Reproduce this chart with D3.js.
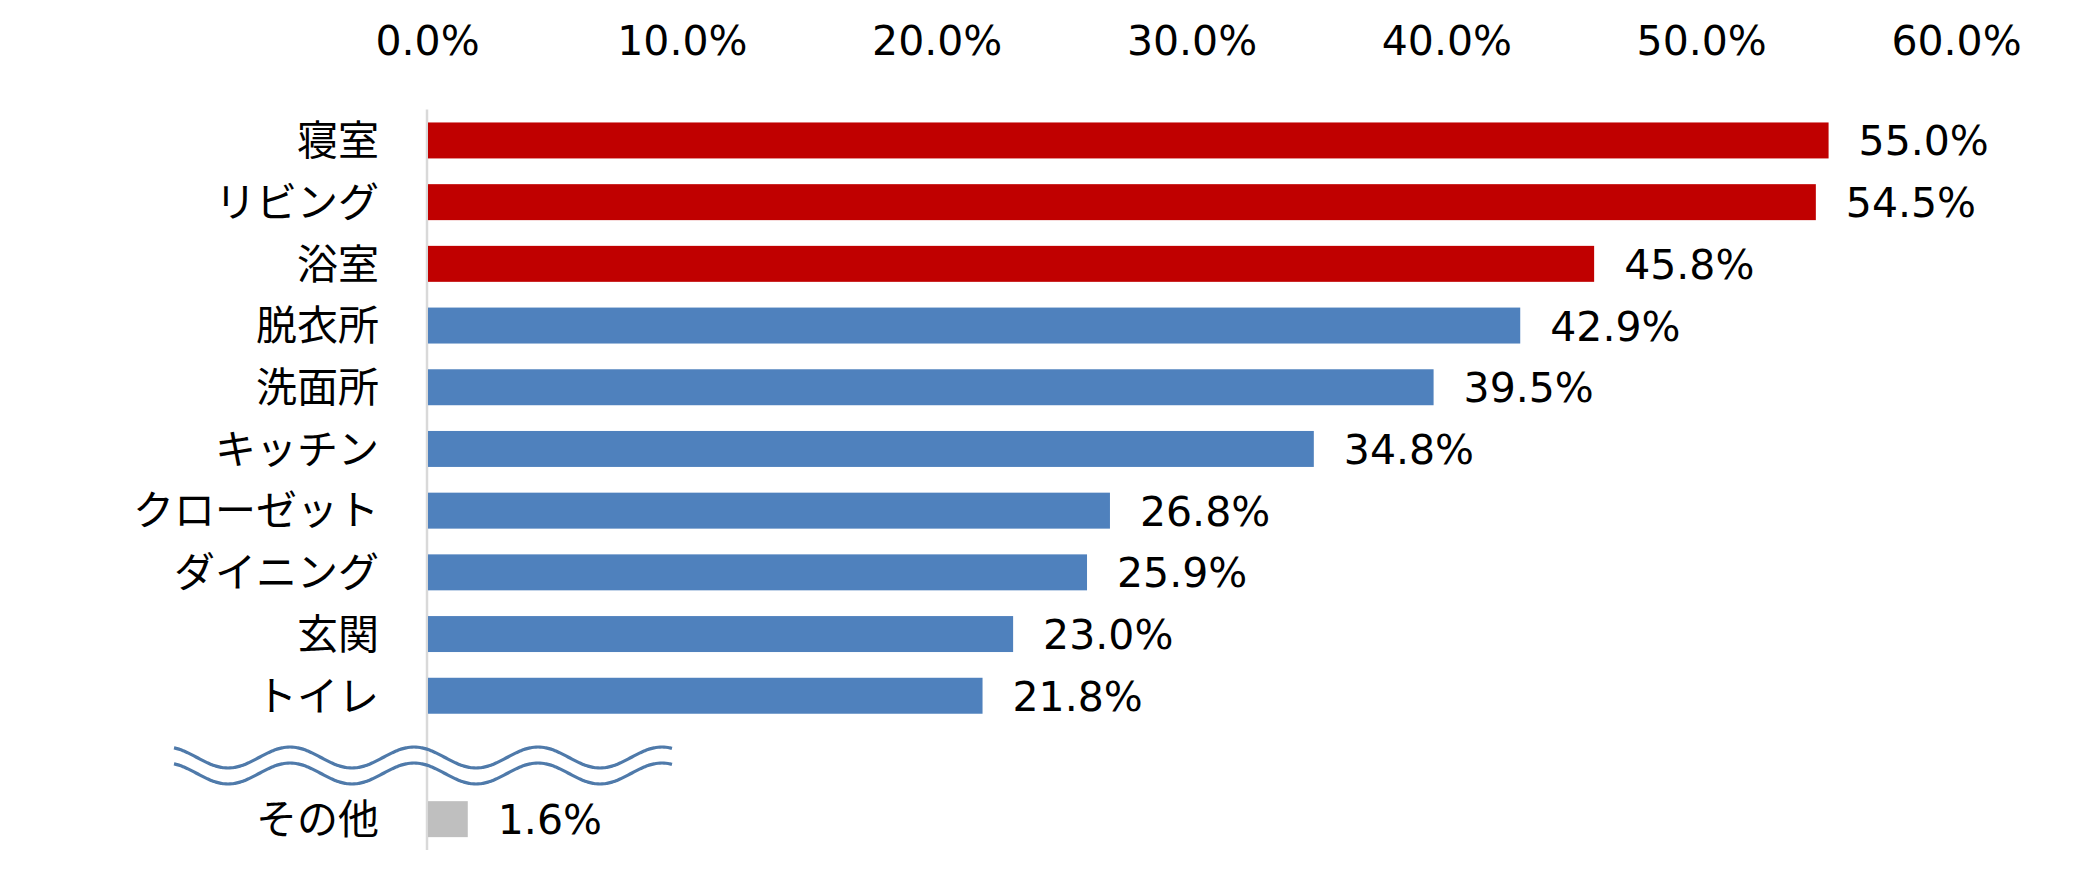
<!DOCTYPE html>
<html><head><meta charset="utf-8">
<script src="https://cdn.jsdelivr.net/npm/d3@7"></script>
<style>html,body{margin:0;padding:0;background:#fff;}svg{display:block;}</style>
</head><body>
<svg id="chart" width="2099" height="888"></svg>
<script>
const categories = ["寝室","リビング","浴室","脱衣所","洗面所","キッチン","クローゼット","ダイニング","玄関","トイレ"];
const values = [55.0,54.5,45.8,42.9,39.5,34.8,26.8,25.9,23.0,21.8];
const colors = ["#C00000","#C00000","#C00000","#4F81BD","#4F81BD","#4F81BD","#4F81BD","#4F81BD","#4F81BD","#4F81BD"];
const otherCategory = "その他";
const otherValue = 1.6;
const tickValues = [0,10,20,30,40,50,60];

const svg = d3.select("#chart");
const x = d3.scaleLinear().domain([0,60]).range([427,1956]);
const rows = [...categories, "__gap__", otherCategory];
const y = d3.scaleBand().domain(rows).range([109.6, 850]).paddingInner(0.417).paddingOuter(0.2085);

const data = categories.map((c,i)=>({c, v:values[i], col:colors[i]}));
data.push({c:otherCategory, v:otherValue, col:"#BFBFBF"});

// axis line
svg.append("line").attr("x1",x(0)).attr("x2",x(0)).attr("y1",109.6).attr("y2",850)
  .attr("stroke","#D9D9D9").attr("stroke-width",2.5);

// top axis
const ax = svg.append("g").attr("transform","translate(0,55)")
  .call(d3.axisTop(x).tickValues(tickValues).tickFormat(d=>d.toFixed(1)+"%").tickSize(0).tickPadding(0));
ax.select(".domain").remove();
ax.selectAll("text").attr("font-family","'DejaVu Sans', Verdana, sans-serif").attr("font-size",41).attr("fill","#000").attr("dy",0);

// bars
svg.selectAll("rect.bar").data(data).enter().append("rect").attr("class","bar")
  .attr("x",x(0)+1).attr("y",d=>y(d.c)).attr("height",y.bandwidth())
  .attr("width",d=>x(d.v)-x(0)-1).attr("fill",d=>d.col);

// category labels
svg.selectAll("text.cat").data(data).enter().append("text").attr("class","cat")
  .attr("x",379).attr("y",d=>y(d.c)+y.bandwidth()/2).attr("dy","0.36em")
  .attr("text-anchor","end").attr("font-family","'Noto Sans CJK JP', sans-serif").attr("font-size",41)
  .attr("fill","#000").text(d=>d.c);

// value labels
svg.selectAll("text.val").data(data).enter().append("text").attr("class","val")
  .attr("x",d=>x(d.v)+30).attr("y",d=>y(d.c)+y.bandwidth()/2).attr("dy","0.365em")
  .attr("font-family","'DejaVu Sans', Verdana, sans-serif").attr("font-size",41)
  .attr("fill","#000").text(d=>d.v.toFixed(1)+"%");

// break wave (decoration)
function wave(x0, x1, cy, amp, period) {
  const pts = [];
  for (let px = x0; px <= x1; px += 2) {
    pts.push([px, cy - amp*Math.cos(2*Math.PI*(px - x0 + 8)/period)]);
  }
  return pts;
}
const wx0 = 174, wx1 = 673, per = 124, amp = 10.5;
const up = wave(wx0, wx1, 757.5, amp, per);
const lo = wave(wx0, wx1, 773.5, amp, per);
const ln = d3.line().curve(d3.curveBasis);
svg.append("path").attr("d", ln(up)).attr("fill","none").attr("stroke","#4F7AAA").attr("stroke-width",3.2);
svg.append("path").attr("d", ln(lo)).attr("fill","none").attr("stroke","#4F7AAA").attr("stroke-width",3.2);
</script>
</body></html>
